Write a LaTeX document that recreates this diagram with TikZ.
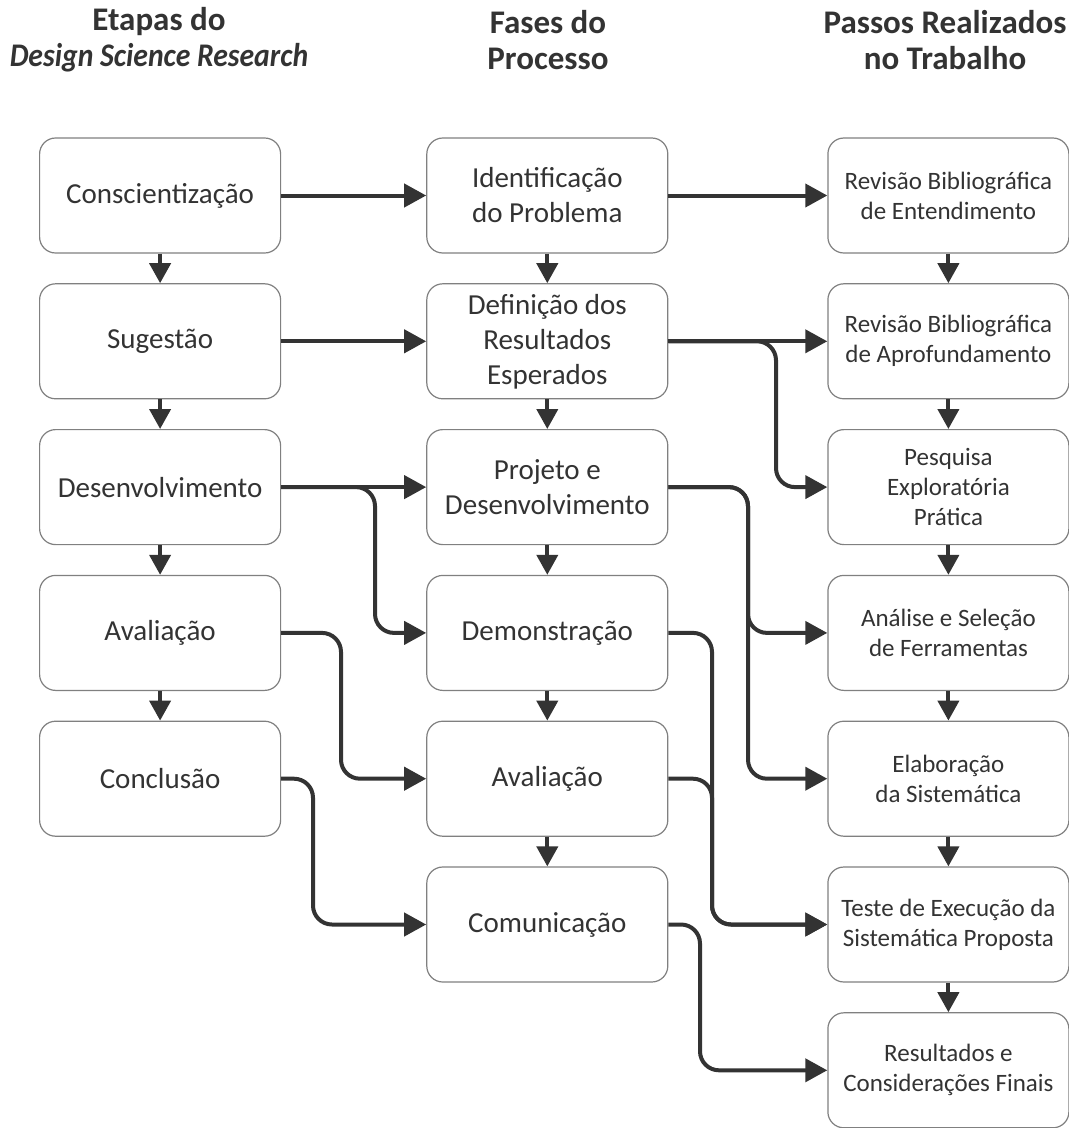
\documentclass[tikz,border=0pt]{standalone}
\usepackage{fontspec}
\usepackage{graphicx}
\setmainfont{Carlito}
\usetikzlibrary{arrows.meta}
\definecolor{ink}{HTML}{333333}
\definecolor{frame}{HTML}{808080}

\begin{document}
\begin{tikzpicture}[x=1pt,y=-1pt,
  box/.style={draw=frame, line width=1.2pt, fill=white, rounded corners=16pt,
    minimum width=241pt, minimum height=115pt, inner sep=0pt, align=center, text=ink},
  bigtxt/.style={box, font=\fontsize{29}{35}\selectfont},
  smalltxt/.style={box, font=\fontsize{25}{30}\selectfont},
  head/.style={font=\fontsize{33}{36}\selectfont\bfseries, text=ink, align=center},
  link/.style={draw=ink, line width=4pt, rounded corners=19pt,
    -{Triangle[length=22pt,width=23pt]}},
  down/.style={draw=ink, line width=4pt, -{Triangle[length=20pt,width=21pt]}},
]
\useasboundingbox[fill=white] (0,0) rectangle (1069,1128);

% column centres and row centres
\def\xa{160.1}
\def\xb{547.3}
\def\xc{948.4}
\def\ry#1{195.5+145.8*#1}

% headings
\node[head] (h1) at (159,40) {Etapas do\\\scalebox{0.9}[1]{\textit{Design Science Research}}};
\node[head] (h2) at (548,40) {Fases do\\Processo};
\node[head] (h3) at (945,40) {Passos Realizados\\no Trabalho};

% stages of Design Science Research
\node[bigtxt] (a0) at (\xa,{\ry{0}}) {Conscientização};
\node[bigtxt] (a1) at (\xa,{\ry{1}}) {Sugestão};
\node[bigtxt] (a2) at (\xa,{\ry{2}}) {Desenvolvimento};
\node[bigtxt] (a3) at (\xa,{\ry{3}}) {Avaliação};
\node[bigtxt] (a4) at (\xa,{\ry{4}}) {Conclusão};

% process phases
\node[bigtxt] (b0) at (\xb,{\ry{0}}) {Identificação\\do Problema};
\node[bigtxt] (b1) at (\xb,{\ry{1}}) {Definição dos\\Resultados\\Esperados};
\node[bigtxt] (b2) at (\xb,{\ry{2}}) {Projeto e\\Desenvolvimento};
\node[bigtxt] (b3) at (\xb,{\ry{3}}) {Demonstração};
\node[bigtxt] (b4) at (\xb,{\ry{4}}) {Avaliação};
\node[bigtxt] (b5) at (\xb,{\ry{5}}) {Comunicação};

% steps carried out
\node[smalltxt] (c0) at (\xc,{\ry{0}}) {Revisão Bibliográfica\\de Entendimento};
\node[smalltxt] (c1) at (\xc,{\ry{1}}) {Revisão Bibliográfica\\de Aprofundamento};
\node[smalltxt] (c2) at (\xc,{\ry{2}}) {Pesquisa\\Exploratória\\Prática};
\node[smalltxt] (c3) at (\xc,{\ry{3}}) {Análise e Seleção\\de Ferramentas};
\node[smalltxt] (c4) at (\xc,{\ry{4}}) {Elaboração\\da Sistemática};
\node[smalltxt] (c5) at (\xc,{\ry{5}}) {Teste de Execução da\\Sistemática Proposta};
\node[smalltxt] (c6) at (\xc,{\ry{6}}) {Resultados e\\Considerações Finais};

% vertical sequence arrows
\foreach \p/\q in {a0/a1,a1/a2,a2/a3,a3/a4,
                   b0/b1,b1/b2,b2/b3,b3/b4,b4/b5,
                   c0/c1,c1/c2,c2/c3,c3/c4,c4/c5,c5/c6}
  \draw[down] (\p.south) -- (\q.north);

% bend points of the routed connectors
\coordinate (ka) at (375,{\ry{2}});
\coordinate (kb) at (341,{\ry{3}});
\coordinate (kc) at (313,{\ry{4}});
\coordinate (kd) at (776,{\ry{1}});
\coordinate (ke) at (748,{\ry{2}});
\coordinate (kf) at (712,{\ry{3}});
\coordinate (kg) at (712,{\ry{4}});
\coordinate (kh) at (700,{\ry{5}});

% stages -> phases
\draw[link] (a0.east) -- (b0.west);
\draw[link] (a1.east) -- (b1.west);
\draw[link] (a2.east) -- (b2.west);
\draw[link] (a2.east) -- (ka) |- (b3.west);
\draw[link] (a3.east) -- (kb) |- (b4.west);
\draw[link] (a4.east) -- (kc) |- (b5.west);

% phases -> steps
\draw[link] (b0.east) -- (c0.west);
\draw[link] (b1.east) -- (c1.west);
\draw[link] (b1.east) -- (kd) |- (c2.west);
\draw[link] (b2.east) -- (ke) |- (c3.west);
\draw[link] (b2.east) -- (ke) |- (c4.west);
\draw[link] (b3.east) -- (kf) |- (c5.west);
\draw[link] (b4.east) -- (kg) |- (c5.west);
\draw[link] (b5.east) -- (kh) |- (c6.west);
\end{tikzpicture}
\end{document}
